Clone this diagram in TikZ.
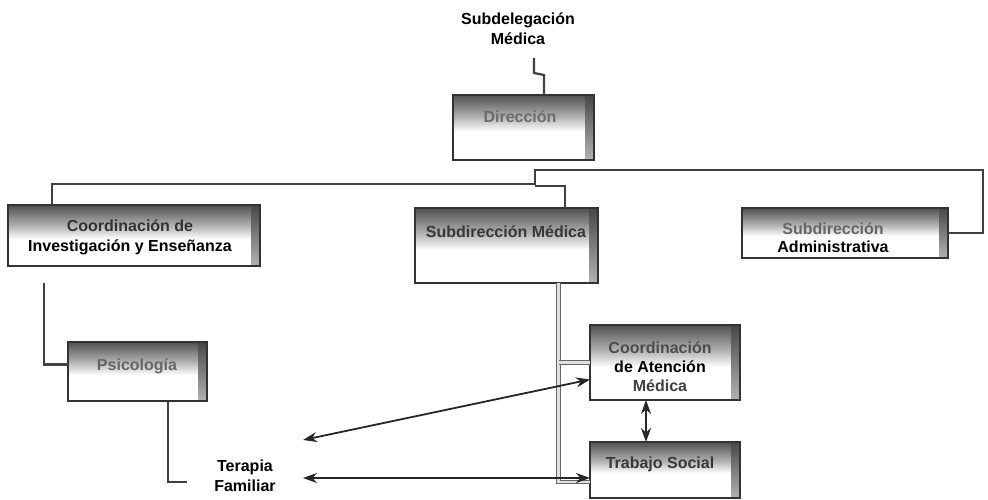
\documentclass[tikz,border=0pt]{standalone}
\usepackage{fontspec}
\setmainfont{Liberation Sans}
\usetikzlibrary{arrows.meta}

% dark band at the top of each box, fading to white (25bp..75bp = box height)
\pgfdeclareverticalshading{boxtop}{100bp}{%
  color(0bp)=(white); color(25bp)=(white); color(47bp)=(white);
  color(58bp)=(black!30); color(69bp)=(black!55); color(75bp)=(black!68); color(100bp)=(black!68)}

\tikzset{
  orgbox/.style 2 args={draw=black!80, line width=1.2pt, shading=boxtop,
    minimum width=#1pt, minimum height=#2pt, inner sep=0pt, outer sep=0pt},
  boxtext/.style={font=\bfseries\fontsize{16}{20}\selectfont, align=center, inner sep=0pt},
  wire/.style={draw=black!75, line width=2.2pt},
  dwire/.style={draw=black!60, line width=0.9pt, double=black!12, double distance=2.6pt},
  link/.style={draw=black!85, line width=1.8pt,
    {Stealth[length=14pt,width=10pt]}-{Stealth[length=14pt,width=10pt]}},
}

\begin{document}
\begin{tikzpicture}[x=1pt,y=-1pt]
\useasboundingbox[fill=white] (0,0) rectangle (988,500);

% boxes
\node[orgbox={141}{65}] (dir)  at (523.5,127.5) {};
\node[orgbox={252}{61}] (cie)  at (134,235.5)   {};
\node[orgbox={183}{75}] (smed) at (506.5,245.5) {};
\node[orgbox={206}{50}] (sadm) at (845,233)     {};
\node[orgbox={139}{59}] (psi)  at (137.5,371.5) {};
\node[orgbox={150}{75}] (cam)  at (665,362.5)   {};
\node[orgbox={150}{56}] (ts)   at (665,470)     {};

% right-hand bevel of every box
\foreach \n in {dir,cie,smed,sadm,psi,cam,ts}{
  \shade[top color=black!72, bottom color=black!30]
    ([xshift=-9pt]\n.north east) rectangle (\n.south east);
  \draw[draw=black!80, line width=1.2pt] (\n.south west) rectangle (\n.north east);
}

% texts
\node[boxtext] (subt) at (518,29) {Subdelegación\\Médica};
\node[boxtext, text=black!58] (dirt) at (520,117) {Dirección};
\node[boxtext] (ciet) at (130,237)
  {\textcolor{black!80}{Coordinación de}\\Investigación y Enseñanza};
\node[boxtext, text=black!78] (smedt) at (506,232) {Subdirección Médica};
\node[boxtext] (sadmt) at (833,238)
  {\textcolor{black!60}{Subdirección}\\[-2pt]Administrativa};
\node[boxtext, text=black!60] (psit) at (137,366) {Psicología};
\node[boxtext] (camt) at (660,367)
  {\textcolor{black!70}{Coordinación}\\[-1pt]de Atención\\[-1pt]\textcolor{black!75}{Médica}};
\node[boxtext, text=black!78] (tst) at (660,464) {Trabajo Social};
\node[boxtext] (tert) at (245,476) {Terapia\\Familiar};

% junction points of the wiring
\coordinate (subj) at (534,58);
\coordinate (subk) at (544,75);
\coordinate (j1) at (535,184);
\coordinate (j2) at (535,170);
\coordinate (j3) at (983,170);
\coordinate (cieL) at (44,283);
\coordinate (terL) at (187,482);
\coordinate (ta1) at (303,440);
\coordinate (ta2) at (303,478);

% hierarchy lines
\draw[wire] (subj) -- ++(0,15) -- (subk) -- (dir.north -| subk);
\draw[wire] ([xshift=-82pt]cie.north) |- (j1) -- (j2) -- (j3) |- (sadm.east);
\draw[wire] ([yshift=-2pt]j1) -| ([xshift=58.5pt]smed.north);
\draw[wire] (cieL) |- ([yshift=7pt]psi.west);
\draw[wire] ([xshift=30.5pt]psi.south) |- (terL);

% lines below Subdirección Médica
\draw[dwire] ([xshift=52pt]smed.south) -- ([xshift=52pt,yshift=-199pt]smed.south)
  -- ([yshift=-12pt]ts.west);
\draw[dwire] ([xshift=52pt]smed.south |- cam.west) -- (cam.west);

% two-way links
\draw[link] (ta1) -- ([yshift=-17pt]cam.west);
\draw[link] (ta2) -- ([yshift=-8pt]ts.west);
\draw[link] ([xshift=-19pt]cam.south) -- ([xshift=-19pt]ts.north);
\end{tikzpicture}
\end{document}
